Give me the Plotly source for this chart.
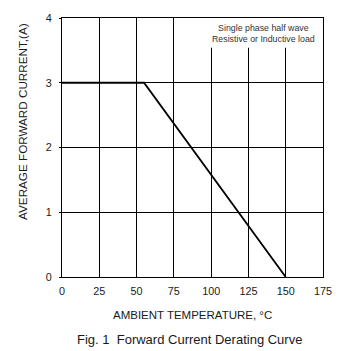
import plotly.graph_objects as go

# Data
temperature = [0, 55, 150]
current = [3, 3, 0]
x_ticks = [0, 25, 50, 75, 100, 125, 150, 175]
y_ticks = [0, 1, 2, 3, 4]

FONT = "Arial, 'Liberation Sans', sans-serif"
TXT = "#1a1a1a"

fig = go.Figure()
fig.add_trace(go.Scatter(x=temperature, y=current, mode="lines",
                         line=dict(color="black", width=1.8),
                         showlegend=False, hoverinfo="skip"))

# white box behind the note (hides grid lines)
fig.add_shape(type="rect", xref="x", yref="y", x0=88, x1=175, y0=3.54, y1=4,
              fillcolor="white", line=dict(width=0), layer="between")

fig.add_annotation(x=135.1, y=3.765, xref="x", yref="y",
                   text="Single phase half wave<br>Resistive or Inductive load",
                   showarrow=False, font=dict(family=FONT, size=8.8, color="#333"),
                   align="center")

fig.add_annotation(x=0.5, y=-0.1466, xref="paper", yref="paper",
                   text="AMBIENT TEMPERATURE, °C", showarrow=False,
                   font=dict(family=FONT, size=11.5, color=TXT), yanchor="middle")
fig.add_annotation(x=0.4866, y=-0.242, xref="paper", yref="paper",
                   text="Fig. 1\u00a0\u00a0Forward Current Derating Curve", showarrow=False,
                   font=dict(family=FONT, size=13, color=TXT), yanchor="middle")
fig.add_annotation(x=-0.154, y=0.602, xref="paper", yref="paper",
                   text="AVERAGE FORWARD CURRENT,(A)", showarrow=False, textangle=-90,
                   font=dict(family=FONT, size=11.7, color=TXT),
                   xanchor="center", yanchor="middle")

fig.update_xaxes(range=[0, 175], tickvals=x_ticks, ticktext=[str(v) for v in x_ticks],
                 showgrid=True, gridcolor="black", gridwidth=1,
                 showline=True, linecolor="black", linewidth=1, mirror=True,
                 zeroline=False, ticks="", ticklabelstandoff=4,
                 tickfont=dict(family=FONT, size=10.8, color=TXT), fixedrange=True)
fig.update_yaxes(range=[0, 4], tickvals=y_ticks, ticktext=[str(v) for v in y_ticks],
                 showgrid=True, gridcolor="black", gridwidth=1,
                 showline=True, linecolor="black", linewidth=1, mirror=True,
                 zeroline=False, ticks="outside", ticklen=2, tickcolor="black",
                 ticklabelstandoff=5,
                 tickfont=dict(family=FONT, size=10.8, color=TXT), fixedrange=True)

fig.update_layout(width=364, height=351,
                  margin=dict(l=62, r=41, t=15, b=74),
                  plot_bgcolor="white", paper_bgcolor="white",
                  font=dict(family=FONT))

fig.write_html("out.html", config={"displayModeBar": False})
